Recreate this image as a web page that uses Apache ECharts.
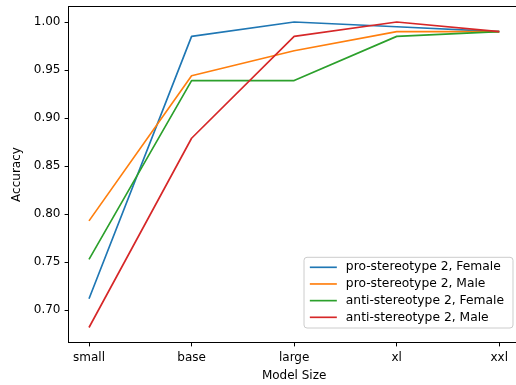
<!DOCTYPE html>
<html>
<head>
<meta charset="utf-8">
<script src="https://cdn.jsdelivr.net/npm/echarts@6/dist/echarts.min.js"></script>
<style>
  html, body { margin: 0; padding: 0; background: #fff; }
  #chart { width: 516px; height: 385px; }
</style>
</head>
<body>
<div id="chart"></div>
<script>
// Model sizes along the x axis
const categories = ['small', 'base', 'large', 'xl', 'xxl'];

// Accuracy per model size
const proFemale  = [0.712, 0.985, 1.000, 0.995, 0.990];
const proMale    = [0.793, 0.944, 0.970, 0.990, 0.990];
const antiFemale = [0.753, 0.939, 0.939, 0.985, 0.990];
const antiMale   = [0.682, 0.879, 0.985, 1.000, 0.990];

const seriesNames = [
  'pro-stereotype 2, Female',
  'pro-stereotype 2, Male',
  'anti-stereotype 2, Female',
  'anti-stereotype 2, Male'
];
const seriesValues = [proFemale, proMale, antiFemale, antiMale];
const colors = ['#1f77b4', '#ff7f0e', '#2ca02c', '#d62728'];

const yTicks = [0.70, 0.75, 0.80, 0.85, 0.90, 0.95, 1.00];
const xTicks = categories.map((_, i) => i);

const FONT = 'DejaVu Sans';

const chart = echarts.init(document.getElementById('chart'), null, { renderer: 'canvas' });

chart.setOption({
  animation: false,
  backgroundColor: '#fff',
  color: colors,
  grid: {
    left: 68.5,
    top: 6.5,
    right: -3.8,
    bottom: 42.5,
    containLabel: false,
    outerBoundsMode: 'none',
    show: true,
    borderColor: '#000',
    borderWidth: 1,
    backgroundColor: 'transparent'
  },
  xAxis: {
    type: 'value',
    min: -0.2,
    max: 4.2,
    name: 'Model Size',
    nameLocation: 'middle',
    nameGap: 27,
    nameTextStyle: { fontFamily: FONT, fontSize: 12, color: '#000' },
    splitLine: { show: false },
    axisLine: { show: true, onZero: false, lineStyle: { color: '#000', width: 1 } },
    axisTick: { show: true, length: 3.9, customValues: xTicks, lineStyle: { color: '#000', width: 1 } },
    axisLabel: {
      customValues: xTicks,
      margin: 9,
      fontFamily: FONT, fontSize: 12, color: '#000',
      formatter: v => categories[Math.round(v)]
    }
  },
  yAxis: {
    type: 'value',
    min: 0.6664,
    max: 1.0161,
    name: 'Accuracy',
    nameLocation: 'middle',
    nameGap: 41,
    nameTextStyle: { fontFamily: FONT, fontSize: 12, color: '#000' },
    splitLine: { show: false },
    axisLine: { show: true, onZero: false, lineStyle: { color: '#000', width: 1 } },
    axisTick: { show: true, length: 3.9, customValues: yTicks, lineStyle: { color: '#000', width: 1 } },
    axisLabel: {
      customValues: yTicks,
      margin: 8,
      fontFamily: FONT, fontSize: 12, color: '#000',
      formatter: v => v.toFixed(2)
    }
  },
  legend: {
    orient: 'vertical',
    left: 304,
    top: 257.3,
    itemWidth: 27,
    itemHeight: 14,
    itemGap: 4.67,
    padding: [4, 9, 4.7, 5],
    backgroundColor: 'rgba(255,255,255,0.8)',
    borderColor: '#cccccc',
    borderWidth: 1,
    borderRadius: 3,
    itemStyle: { opacity: 0 },
    lineStyle: { width: 1.67 },
    textStyle: { fontFamily: FONT, fontSize: 12.3, color: '#000', padding: [0, 0, 0, 4] },
    data: seriesNames
  },
  series: seriesNames.map((name, k) => ({
    name: name,
    type: 'line',
    symbol: 'none',
    data: seriesValues[k].map((v, i) => [i, v]),
    lineStyle: { width: 1.67, color: colors[k] },
    itemStyle: { color: colors[k] },
    z: 2 + k
  }))
});
</script>
</body>
</html>
